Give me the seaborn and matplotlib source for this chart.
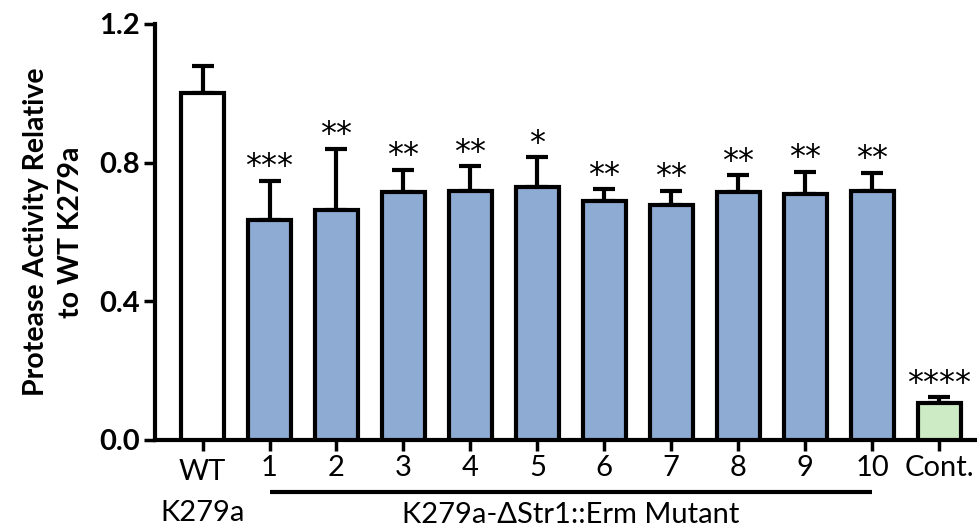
import matplotlib
matplotlib.use("Agg")
import matplotlib.pyplot as plt
import seaborn as sns
import pandas as pd
import numpy as np

categories = ["WT", "1", "2", "3", "4", "5", "6", "7", "8", "9", "10", "Cont."]
means = [1.0, 0.636, 0.663, 0.714, 0.717, 0.730, 0.688, 0.677, 0.714, 0.711, 0.719, 0.106]
err_up = [0.080, 0.112, 0.177, 0.066, 0.073, 0.085, 0.035, 0.042, 0.050, 0.063, 0.052, 0.017]
stars = ["", "***", "**", "**", "**", "*", "**", "**", "**", "**", "**", "****"]
colors = ["#ffffff"] + ["#8eabd3"] * 10 + ["#cdebc5"]

sns.set_theme(style="ticks")
plt.rcParams['font.family'] = ['Lato', 'DejaVu Sans']
plt.rcParams['text.color'] = 'black'
plt.rcParams['axes.labelcolor'] = 'black'

fig = plt.figure(figsize=(9.78, 5.31), dpi=100)
ax = fig.add_axes([155/978, 91/531, (976-155)/978, (440-24)/531])

df = pd.DataFrame({"cat": categories, "val": means})
sns.barplot(data=df, x="cat", y="val", hue="cat", palette=colors, legend=False,
            saturation=1, width=0.64, edgecolor="black", linewidth=3.0, ax=ax, zorder=3)

x = np.arange(len(categories))
ax.errorbar(x, means, yerr=[np.zeros(len(means)), err_up], fmt="none",
            ecolor="black", elinewidth=3.0, capsize=8, capthick=3.0, zorder=2)

for xi, m, e, s in zip(x, means, err_up, stars):
    if s:
        ax.text(xi, m + e - 0.004, s, ha="center", va="bottom",
                fontsize=23, family="DejaVu Sans", color="black")

ax.set_ylim(0, 1.2)
ax.set_xlim(-0.71, 11.55)
ax.set_yticks([0.0, 0.4, 0.8, 1.2])
ax.set_yticklabels(["0.0", "0.4", "0.8", "1.2"], fontsize=21, fontweight="bold")
ax.set_xticks(x)
ax.set_xticklabels([""] + categories[1:], fontsize=21)
ax.tick_params(axis="both", width=2.5, length=8, direction="out", colors="black")
ax.tick_params(axis="x", pad=3)
ax.tick_params(axis="y", pad=3)
for sp in ["top", "right"]:
    ax.spines[sp].set_visible(False)
for sp in ["left", "bottom"]:
    ax.spines[sp].set_linewidth(3.0)
    ax.spines[sp].set_color("black")

ax.set_xlabel("")
ax.set_ylabel("Protease Activity Relative\nto WT K279a", fontsize=20.5, fontweight="bold",
              linespacing=1.45, color="black")
ax.yaxis.set_label_coords(-0.086, 0.5)

# WT label (two lines)
ax.text(0, -0.045, "WT", transform=ax.get_xaxis_transform(), ha="center", va="top", fontsize=21)
ax.text(0, -0.145, "K279a", transform=ax.get_xaxis_transform(), ha="center", va="top", fontsize=21)

# bracket line under mutants
ax.plot([1, 10], [-0.125, -0.125], transform=ax.get_xaxis_transform(), color="black",
        lw=3.0, clip_on=False, solid_capstyle="butt")
ax.text(5.5, -0.15, "K279a-\u0394Str1::Erm Mutant", transform=ax.get_xaxis_transform(),
        ha="center", va="top", fontsize=21)

fig.savefig("out.png", dpi=100, facecolor="white")
